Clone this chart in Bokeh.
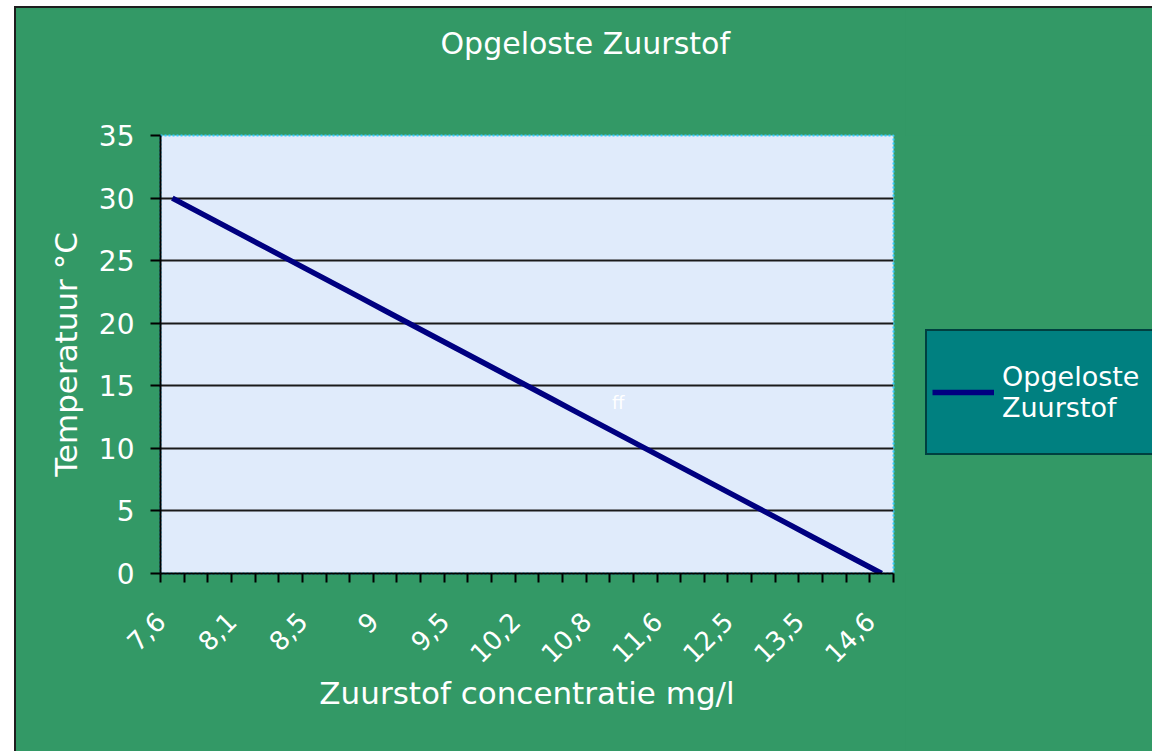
import math
from bokeh.plotting import figure
from bokeh.layouts import row
from bokeh.models import Range1d, FixedTicker, Legend, LegendItem, Label, ColumnDataSource, Title
from bokeh.embed import file_html
from bokeh.resources import INLINE

# Data: dissolved oxygen (mg/l) per temperature (°C), from 30 down to 0
zuurstof = ["7,6", "7,8", "7,9", "8,1", "8,2", "8,4", "8,5", "8,7", "8,8", "9",
            "9,2", "9,4", "9,5", "9,7", "10", "10,2", "10,4", "10,6", "10,8", "11,1",
            "11,3", "11,6", "11,9", "12,2", "12,5", "12,8", "13,1", "13,5", "13,8", "14,2", "14,6"]
temperatuur = [30, 29, 28, 27, 26, 25, 24, 23, 22, 21, 20, 19, 18, 17, 16, 15,
               14, 13, 12, 11, 10, 9, 8, 7, 6, 5, 4, 3, 2, 1, 0]
y_ticks = [0, 5, 10, 15, 20, 25, 30, 35]
label_every = 3
series_name = "Opgeloste\nZuurstof"

GREEN = "#339966"
NAVY = "#000080"
FONT = "DejaVu Sans"

n = len(zuurstof)
pos = list(range(n))
src = ColumnDataSource(data=dict(x=pos, y=temperatuur, cat=zuurstof))

p = figure(width=889, height=743, output_backend="svg", toolbar_location=None,
           x_range=Range1d(-0.5, n - 0.5), y_range=Range1d(0, 35),
           min_border_left=144, min_border_right=12, min_border_top=127,
           min_border_bottom=178)

p.background_fill_color = "#e0ebfb"
p.border_fill_color = GREEN
p.outline_line_color = "#33ccff"
p.outline_line_width = 2
p.outline_line_dash = "2 2"

# title: a blank spacer title sits between the real title and the plot area
p.title = None
p.add_layout(Title(text=" ", standoff=62, text_font_size="10px",
                   text_color=GREEN), "above")
p.add_layout(Title(text="Opgeloste Zuurstof", align="left", offset=280, standoff=0,
                   text_color="white", text_font=FONT, text_font_size="30px",
                   text_font_style="normal"), "above")

# x axis: ticks at category boundaries, labels every 3rd category
bounds = [i - 0.5 for i in range(n + 1)]
overrides = {}
for i in range(n + 1):
    overrides[i - 0.5] = zuurstof[i] if (i < n and i % label_every == 0) else ""
xa = p.xaxis[0]
xa.ticker = FixedTicker(ticks=bounds)
xa.major_label_overrides = overrides
xa.major_label_orientation = math.pi / 4
xa.major_label_text_color = "white"
xa.major_label_text_font = FONT
xa.major_label_text_font_size = "26px"
xa.major_label_standoff = 34
xa.major_tick_out = 9
xa.major_tick_in = 0
xa.minor_tick_line_color = None
xa.axis_line_width = 2
xa.major_tick_line_width = 2
xa.axis_line_color = "black"
xa.major_tick_line_color = "black"
xa.axis_label = "Zuurstof concentratie mg/l"
xa.axis_label_text_color = "white"
xa.axis_label_text_font = FONT
xa.axis_label_text_font_size = "31px"
xa.axis_label_text_font_style = "normal"
xa.axis_label_standoff = 0

ya = p.yaxis[0]
ya.ticker = FixedTicker(ticks=y_ticks)
ya.major_label_text_color = "white"
ya.major_label_text_font = FONT
ya.major_label_text_font_size = "28px"
ya.major_label_standoff = 16
ya.major_tick_out = 10
ya.major_tick_in = 0
ya.minor_tick_line_color = None
ya.axis_line_width = 2
ya.major_tick_line_width = 2
ya.axis_line_color = "black"
ya.major_tick_line_color = "black"
ya.axis_label = "Temperatuur °C"
ya.axis_label_text_color = "white"
ya.axis_label_text_font = FONT
ya.axis_label_text_font_size = "31px"
ya.axis_label_text_font_style = "normal"
ya.axis_label_standoff = 12

p.xgrid.visible = False
p.ygrid.ticker = FixedTicker(ticks=y_ticks[1:-1])
p.ygrid.grid_line_color = "#1a1a1a"
p.ygrid.grid_line_width = 1.8

r = p.line("x", "y", source=src, line_color=NAVY, line_width=5.5)

p.add_layout(Label(x=18.6, y=12.8, text="ff", text_color="white",
                   text_font=FONT, text_font_size="18px"))

# legend panel to the right of the chart; the series is drawn there only as a
# legend proxy, outside that panel's visible range
pl = figure(width=247, height=743, output_backend="svg", toolbar_location=None,
            x_axis_location=None, y_axis_location=None,
            x_range=Range1d(-0.5, n - 0.5), y_range=Range1d(100, 101),
            min_border_left=0, min_border_right=0, min_border_top=127,
            min_border_bottom=178)
pl.title = None
pl.xgrid.visible = False
pl.ygrid.visible = False
pl.background_fill_color = GREEN
pl.border_fill_color = GREEN
pl.outline_line_color = None
lr = pl.line("x", "y", source=src, line_color=NAVY, line_width=5.5)
legend = Legend(items=[LegendItem(label=series_name, renderers=[lr])],
                location=(20, 118), orientation="vertical",
                background_fill_color="#008080", background_fill_alpha=1.0,
                border_line_color="black", border_line_width=2,
                label_text_color="white", label_text_font=FONT,
                label_text_font_size="27px", glyph_width=62, label_standoff=8,
                padding=5, margin=0, label_height=112, label_width=160)
pl.add_layout(legend)

p.styles = {"background-color": GREEN}
pl.styles = {"background-color": GREEN}

lay = row(p, pl, spacing=0)
lay.margin = (6, 0, 0, 14)
lay.styles = {"border-left": "2px solid #1e1e1e", "border-top": "2px solid #1e1e1e",
              "background-color": GREEN}

open("out.html", "w").write(file_html(lay, INLINE))
